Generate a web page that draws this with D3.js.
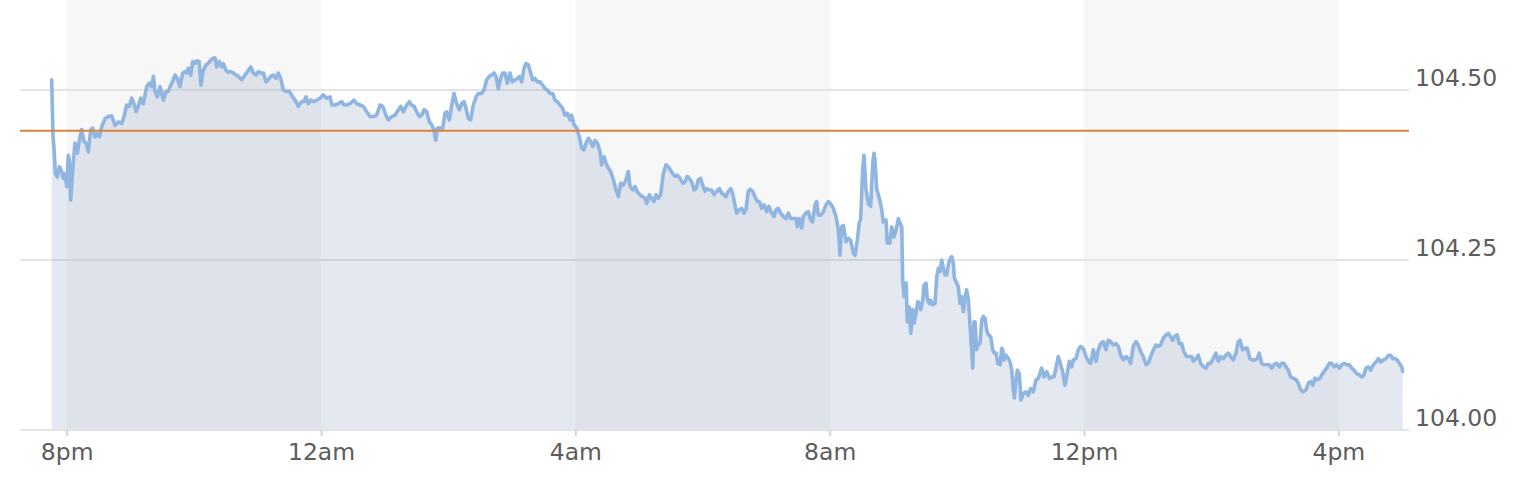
<!DOCTYPE html>
<html>
<head>
<meta charset="utf-8">
<script src="https://cdn.jsdelivr.net/npm/d3@7"></script>
<style>
html,body{margin:0;padding:0;background:#fff;}
svg{display:block;}
</style>
</head>
<body>
<svg id="chart" width="1532" height="492"></svg>
<script>
// minutes relative to 8pm of the first day
const minutes = [
-14.2,-12.9,-12.0,-10.7,-8.8,-6.9,-4.7,-3.2,-1.6,0.0,1.5,2.5,3.7,5.6,7.8,10.0,11.9,14.1,16.3,18.2,20.4,22.6,24.5,26.7,28.9,30.8,33.0,36.2,39.3,42.4,45.6,48.7,51.9,54.1,56.6,59.1,61.3,63.5,65.4,67.6,69.8,72.3,75.5,78.0,80.2,81.8,83.3,85.5,88.1,91.2,93.7,95.9,98.1,100.6,102.2,104.4,106.9,109.4,111.6,113.2,114.8,117.0,118.9,121.1,122.7,124.9,126.7,128.9,131.5,133.7,135.9,138.4,140.0,141.5,144.0,146.2,147.8,150.3,152.5,154.7,157.3,159.8,162.0,165.1,168.3,171.4,173.6,176.1,178.6,180.8,183.1,185.6,188.1,190.3,192.5,195.0,197.5,199.7,201.9,204.4,206.9,210.1,213.2,215.5,218.6,221.7,224.0,225.8,228.0,230.2,232.8,235.9,239.0,242.2,245.3,248.5,250.1,253.2,256.3,259.5,261.7,264.2,267.4,271.1,273.6,276.8,279.9,283.1,286.2,289.4,292.5,295.7,298.2,301.3,303.5,306.7,309.8,313.0,
315.2,317.7,320.2,323.3,325.5,327.8,330.3,332.8,335.0,337.2,339.7,342.2,344.4,346.6,348.2,349.8,352.3,354.8,357.0,358.6,361.1,363.3,365.5,368.0,370.5,372.7,374.9,376.8,379.0,381.2,383.7,386.3,388.5,391.6,393.8,396.3,398.8,401.0,403.2,405.1,407.3,409.5,411.4,413.6,415.8,418.3,420.5,423.1,425.3,427.2,429.3,431.6,433.4,435.6,437.8,439.7,442.0,444.1,446.7,449.2,451.4,453.6,456.1,458.6,460.8,463.0,465.5,468.0,470.2,472.4,475.0,476.5,478.7,481.3,483.8,486.0,488.2,490.1,492.3,494.5,496.4,498.6,500.8,503.3,504.8,507.0,509.0,511.1,513.3,515.9,518.4,520.6,522.8,525.3,527.8,530.0,531.6,534.1,536.3,538.5,541.0,543.5,545.7,547.3,549.8,552.0,554.2,556.1,558.3,560.5,563.0,565.5,567.8,
571.8,574.0,576.2,578.7,581.3,583.5,585.7,587.5,589.7,592.0,593.8,596.0,598.2,600.1,602.3,603.9,606.4,608.6,610.8,613.3,615.9,618.1,620.3,622.1,624.3,626.6,628.4,630.6,632.2,634.7,636.9,639.1,641.0,643.2,644.8,647.3,649.5,651.7,653.6,655.8,658.0,660.5,662.7,665.2,667.4,669.3,671.5,673.7,676.3,678.8,681.0,683.2,685.7,688.2,689.5,691.4,693.6,695.1,697.6,699.8,702.0,703.9,706.1,707.7,709.3,711.5,714.0,716.5,718.7,720.9,723.4,725.9,728.2,729.7,731.3,732.9,735.4,737.6,739.8,742.3,743.9,746.1,748.0,749.2,751.1,752.4,754.3,756.5,758.7,760.6,761.8,762.8,764.3,766.8,769.1,770.6,773.1,774.4,776.9,778.5,780.7,782.6,784.8,
786.4,788.0,788.9,790.2,792.1,793.3,795.2,796.5,798.4,799.6,801.5,803.1,804.6,805.9,807.8,809.0,810.9,812.2,814.1,815.3,817.2,819.4,821.0,822.6,824.1,825.7,827.3,828.9,830.4,832.0,833.6,835.2,836.7,837.7,839.9,841.4,843.0,844.6,846.2,847.7,849.3,850.9,852.5,854.0,855.0,856.2,857.2,858.7,860.3,861.9,863.5,865.0,866.6,868.2,869.8,872.0,873.8,875.4,877.0,878.6,880.8,882.3,883.3,884.5,886.4,888.6,890.2,891.8,892.7,894.3,895.9,897.1,899.0,
900.5,902.7,905.2,907.4,909.6,912.2,914.7,916.9,920.0,922.2,924.7,927.3,929.5,931.7,933.5,935.7,938.0,939.8,942.0,943.6,946.1,948.3,949.9,952.4,954.6,956.8,959.3,961.9,964.1,966.3,968.8,971.3,973.5,975.7,978.2,980.7,982.9,985.1,987.7,990.2,992.4,994.6,997.1,999.6,1001.8,1004.0,1006.5,1009.0,1011.2,1013.5,1016.0,1018.5,1020.7,1022.9,1025.4,1027.9,1030.1,1032.3,1034.8,1037.4,1039.6,1041.8,1043.6,1045.8,1048.0,1049.9,1052.1,1054.3,1056.9,1059.4,1061.6,1063.1,1065.7,1067.9,1070.1,1072.6,1075.1,1077.3,1079.5,1082.0,1084.5,1086.7,1089.0,1091.5,1094.0,1096.2,1098.4,1100.9,1103.4,1105.6,1107.2,1109.7,1111.9,1114.1,1116.6,1119.1,1121.3,1123.5,1125.4,1127.6,1129.8,1132.3,1134.9,1137.1,1139.3,1141.8,1144.3,1146.5,1148.7,1150.6,1152.8,1155.0,1157.5,1160.0,1162.2,1164.4,1167.0,1169.5,1171.7,1173.9,1175.8,1178.0,1180.2,1182.7,
1184.3,1186.5,1189.0,1191.5,1193.7,1195.9,1198.4,1201.0,1203.2,1205.4,1207.9,1210.4,1212.6,1214.8,1217.3,1219.8,1222.0,1224.2,1226.1,1228.3,1230.5,1233.0,1235.6,1237.8,1240.0,1242.5,1245.0,1247.2,1249.4,1251.3,1253.5,1255.7,1257.6,1259.8,1260.7
];
const prices = [
104.515,104.431,104.414,104.377,104.372,104.387,104.380,104.370,104.377,104.358,104.404,104.397,104.338,104.382,104.422,104.407,104.426,104.442,104.424,104.422,104.409,104.441,104.444,104.431,104.436,104.431,104.446,104.458,104.461,104.462,104.448,104.453,104.451,104.461,104.478,104.476,104.488,104.480,104.468,104.476,104.488,104.480,104.505,104.510,104.505,104.520,104.498,104.490,104.505,104.485,104.498,104.498,104.507,104.515,104.522,104.517,104.505,104.525,104.527,104.525,104.532,104.522,104.542,104.539,104.543,104.542,104.507,104.529,104.537,104.539,104.544,104.547,104.547,104.534,104.542,104.534,104.539,104.529,104.526,104.527,104.525,104.522,104.520,104.515,104.522,104.529,104.534,104.525,104.522,104.527,104.525,104.525,104.512,104.515,104.520,104.522,104.517,104.525,104.517,104.500,104.498,104.498,104.490,104.485,104.476,104.483,104.483,104.490,104.480,104.485,104.483,104.485,104.488,104.493,104.488,104.490,104.478,104.478,104.480,104.483,104.478,104.478,104.480,104.485,104.480,104.478,104.476,104.468,104.461,104.461,104.463,104.478,104.476,104.463,104.456,104.461,104.463,104.471,
104.476,104.468,104.476,104.483,104.478,104.476,104.468,104.461,104.463,104.471,104.468,104.453,104.449,104.441,104.426,104.444,104.444,104.444,104.466,104.468,104.456,104.478,104.495,104.480,104.471,104.480,104.483,104.473,104.458,104.456,104.478,104.490,104.495,104.495,104.500,104.515,104.520,104.522,104.525,104.520,104.502,104.517,104.525,104.525,104.510,104.525,104.512,104.515,104.517,104.520,104.512,104.532,104.539,104.537,104.525,104.515,104.517,104.512,104.512,104.507,104.502,104.500,104.495,104.495,104.485,104.483,104.478,104.473,104.463,104.466,104.456,104.463,104.449,104.444,104.431,104.414,104.412,104.422,104.429,104.424,104.417,104.426,104.422,104.409,104.390,104.402,104.392,104.385,104.380,104.368,104.353,104.343,104.363,104.360,104.368,104.380,104.358,104.353,104.358,104.350,104.346,104.343,104.341,104.333,104.346,104.341,104.336,104.346,104.341,104.346,104.377,104.390,104.387,
104.377,104.373,104.375,104.370,104.363,104.365,104.373,104.370,104.365,104.353,104.355,104.368,104.370,104.360,104.351,104.355,104.353,104.353,104.346,104.351,104.355,104.348,104.346,104.343,104.351,104.355,104.348,104.331,104.319,104.324,104.326,104.319,104.324,104.351,104.354,104.351,104.343,104.336,104.336,104.326,104.331,104.321,104.329,104.319,104.314,104.324,104.326,104.319,104.314,104.311,104.319,104.311,104.311,104.311,104.299,104.311,104.297,104.314,104.319,104.321,104.309,104.306,104.331,104.336,104.316,104.316,104.321,104.331,104.336,104.333,104.326,104.314,104.294,104.257,104.299,104.301,104.277,104.282,104.279,104.260,104.257,104.279,104.306,104.309,104.382,104.404,104.353,104.333,104.329,104.392,104.407,104.397,104.355,104.341,104.324,104.306,104.309,104.275,104.275,104.299,104.284,104.294,104.311,
104.304,104.299,104.221,104.196,104.216,104.159,104.181,104.142,104.177,104.157,104.172,104.189,104.186,104.177,104.191,104.213,104.216,104.191,104.186,104.191,104.184,104.186,104.225,104.238,104.233,104.250,104.238,104.228,104.228,104.243,104.252,104.255,104.245,104.223,104.216,104.211,104.186,104.196,104.174,104.196,104.206,104.191,104.152,104.118,104.091,104.159,104.159,104.118,104.127,104.127,104.162,104.167,104.164,104.147,104.140,104.137,104.118,104.113,104.113,104.098,104.096,104.120,104.118,104.103,104.110,104.105,104.100,104.088,104.069,104.047,104.074,104.088,104.083,
104.044,104.054,104.056,104.051,104.061,104.056,104.074,104.076,104.091,104.078,104.086,104.076,104.078,104.078,104.091,104.108,104.096,104.086,104.066,104.078,104.101,104.093,104.103,104.105,104.118,104.123,104.120,104.108,104.101,104.098,104.118,104.101,104.118,104.127,104.130,104.118,104.132,104.130,104.125,104.127,104.123,104.110,104.103,104.108,104.105,104.098,104.123,104.130,104.125,104.115,104.108,104.096,104.098,104.108,104.118,104.125,104.123,104.125,104.135,104.140,104.142,104.137,104.132,104.138,104.140,104.127,104.127,104.115,104.108,104.108,104.108,104.101,104.105,104.110,104.098,104.093,104.091,104.098,104.098,104.105,104.113,104.101,104.108,104.105,104.110,104.113,104.108,104.103,104.113,104.130,104.132,104.118,104.120,104.120,104.105,104.103,104.103,104.105,104.113,104.098,104.096,104.096,104.096,104.091,104.096,104.098,104.093,104.098,104.098,104.093,104.088,104.078,104.076,104.074,104.069,104.059,104.056,104.059,104.069,104.071,104.066,104.076,104.074,104.076,
104.081,104.086,104.091,104.098,104.098,104.093,104.096,104.091,104.096,104.098,104.096,104.096,104.091,104.088,104.083,104.081,104.078,104.081,104.091,104.093,104.088,104.096,104.100,104.105,104.100,104.103,104.105,104.110,104.110,104.105,104.105,104.103,104.098,104.093,104.086
];
const yTickValues = [104.00, 104.25, 104.50];
const xTickLabels = ["8pm", "12am", "4am", "8am", "12pm", "4pm"];
const xTickMinutes = [0, 240, 480, 720, 960, 1200];   // minutes after 8pm
const axisExtentMinutes = [-44.1, 1266.7];
const yExtent = [104.0, 104.6324];
const previousClose = 104.44;

(function () {
  const base = new Date(2024, 0, 1, 20, 0, 0);
  const toDate = m => new Date(base.getTime() + m * 60000);
  const data = minutes.map((m, i) => ({ t: toDate(m), v: prices[i] }));

  const svg = d3.select("#chart");
  const pLeft = 20, pRight = 1409, pTop = 0, pBottom = 430;
  const x = d3.scaleTime().domain(axisExtentMinutes.map(toDate)).range([pLeft, pRight]);
  const y = d3.scaleLinear().domain(yExtent).range([pBottom, pTop]);
  const tickDates = xTickMinutes.map(toDate);
  const FONT = "'DejaVu Sans', Verdana, sans-serif";

  // alternating bands
  const bands = [];
  for (let i = 0; i + 1 < tickDates.length; i += 2) bands.push([tickDates[i], tickDates[i + 1]]);
  svg.append("g").selectAll("rect").data(bands).join("rect")
    .attr("x", d => x(d[0])).attr("width", d => x(d[1]) - x(d[0]))
    .attr("y", pTop).attr("height", pBottom - pTop)
    .attr("fill", "#f7f7f7");

  // gridlines
  svg.append("g").selectAll("line").data(yTickValues.filter(v => v > yExtent[0])).join("line")
    .attr("x1", pLeft).attr("x2", pRight)
    .attr("y1", d => y(d)).attr("y2", d => y(d))
    .attr("stroke", "#e3e3e3").attr("stroke-width", 2);

  // area + line
  const area = d3.area().x(d => x(d.t)).y0(y(yExtent[0])).y1(d => y(d.v));
  svg.append("path").datum(data).attr("d", area).attr("fill", "rgba(147,167,199,0.25)");

  const line = d3.line().x(d => x(d.t)).y(d => y(d.v));
  svg.append("path").datum(data).attr("d", line)
    .attr("fill", "none").attr("stroke", "#8fb5e0").attr("stroke-width", 3.6)
    .attr("stroke-linejoin", "round").attr("stroke-linecap", "round");

  // x axis
  const xAxis = d3.axisBottom(x).tickValues(tickDates)
    .tickFormat((d, i) => xTickLabels[i]).tickSizeOuter(0).tickSize(6);
  const gx = svg.append("g").attr("transform", `translate(0,${pBottom})`).call(xAxis);
  gx.select(".domain").remove();
  gx.insert("line", ":first-child")
    .attr("x1", pLeft).attr("x2", pRight).attr("y1", 0).attr("y2", 0)
    .attr("stroke", "#e3e3e3").attr("stroke-width", 2);
  gx.selectAll(".tick line").attr("stroke", "#ccd6eb").attr("stroke-width", 2);
  gx.selectAll(".tick text").attr("y", 29.5).attr("dy", 0)
    .attr("fill", "#5c5c5c").style("font-family", FONT).style("font-size", "23.5px");

  // y axis (right)
  const yAxis = d3.axisRight(y).tickValues(yTickValues).tickFormat(d3.format(".2f")).tickSize(0).tickPadding(6);
  const gy = svg.append("g").attr("transform", `translate(${pRight},0)`).call(yAxis);
  gy.select(".domain").remove();
  gy.selectAll(".tick text").attr("y", -5).attr("dy", 0)
    .attr("fill", "#5c5c5c").style("font-family", FONT).style("font-size", "23.5px");

  // previous close
  svg.append("line")
    .attr("x1", pLeft).attr("x2", pRight)
    .attr("y1", y(previousClose)).attr("y2", y(previousClose))
    .attr("stroke", "#d8843f").attr("stroke-width", 2);
})();
</script>
</body>
</html>
